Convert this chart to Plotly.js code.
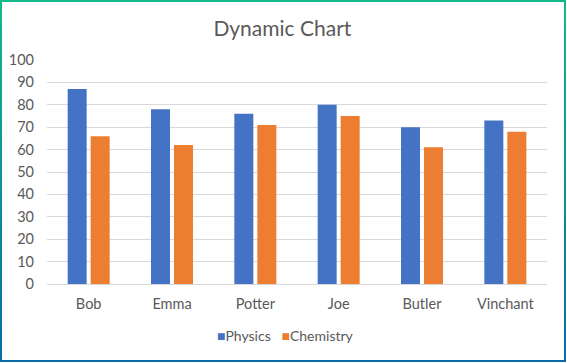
<!DOCTYPE html>
<html>
<head>
<meta charset="utf-8">
<script src="https://cdn.plot.ly/plotly-3.0.1.min.js"></script>
<style>
  html, body { margin: 0; padding: 0; background: #ffffff; }
  #wrap { position: relative; width: 567px; height: 363px; }
  #chart { position: absolute; left: 0; top: 0; width: 567px; height: 363px; }
  #frame { position: absolute; left: 0; top: 0; width: 566px; height: 362px; box-sizing: border-box;
           border: 2px solid #0a8f9a; border-image: linear-gradient(to bottom, #12b98a, #0a6aa6) 1; pointer-events: none; }
</style>
</head>
<body>
<div id="wrap">
  <div id="chart"></div>
  <div id="frame"></div>
</div>
<script>
const categories = ["Bob", "Emma", "Potter", "Joe", "Butler", "Vinchant"];
const physics = [87, 78, 76, 80, 70, 73];
const chemistry = [66, 62, 71, 75, 61, 68];
const yTicks = [0, 10, 20, 30, 40, 50, 60, 70, 80, 90, 100];
const seriesNames = ["Physics", "Chemistry"];
const seriesColors = ["#4472C4", "#ED7D31"];

const font = "Lato, 'Open Sans', sans-serif";
const data = [
  { type: "bar", name: seriesNames[0], x: categories, y: physics, marker: { color: seriesColors[0] } },
  { type: "bar", name: seriesNames[1], x: categories, y: chemistry, marker: { color: seriesColors[1] } }
];
const legendText = seriesNames.map((n, i) =>
  '<span style="color:' + seriesColors[i] + '">\u25A0</span>' + n).join('&nbsp;&nbsp;&nbsp;');
const layout = {
  width: 567, height: 363,
  margin: { l: 47, r: 20, t: 60, b: 79 },
  paper_bgcolor: "#ffffff", plot_bgcolor: "#ffffff",
  font: { family: font, color: "#595959", size: 14 },
  title: { text: "Dynamic Chart", font: { family: font, size: 21, color: "#595959" },
           x: 0.498, xref: "container", xanchor: "center", y: 0.922, yref: "container", yanchor: "middle" },
  barmode: "group", bargap: 0.448, bargroupgap: 0.174,
  xaxis: { type: "category", showgrid: false, zeroline: false, showline: false, ticks: "",
           ticklabelstandoff: 9, tickfont: { size: 14.5, color: "#595959" } },
  yaxis: { range: [0, 100], tickvals: yTicks, ticktext: yTicks.map(String),
           showgrid: true, gridcolor: "#D9D9D9", gridwidth: 1, zeroline: true, zerolinecolor: "#D9D9D9",
           showline: false, ticks: "", ticklabelstandoff: 12, tickfont: { size: 14.5, color: "#595959" } },
  showlegend: false,
  annotations: [
    { text: legendText, xref: "paper", yref: "paper", x: 0.476, y: -0.232, xanchor: "center", yanchor: "middle",
      showarrow: false, font: { family: font, size: 14, color: "#595959" } }
  ]
};
Plotly.newPlot("chart", data, layout, { displayModeBar: false, staticPlot: true });
</script>
</body>
</html>
